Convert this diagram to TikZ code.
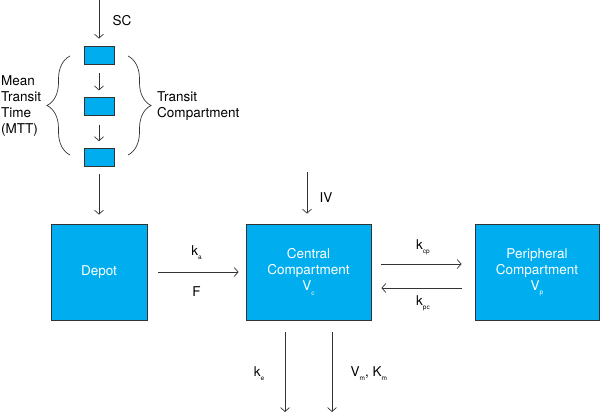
\documentclass[tikz,border=0pt]{standalone}
\usepackage{fontspec}
\setmainfont{TeX Gyre Heros}
\usepackage{tikz}
\usetikzlibrary{arrows.meta, decorations.pathreplacing, calc}
\usetikzlibrary{positioning}
\definecolor{boxBlue}{HTML}{00AEEF}
\definecolor{lineGray}{HTML}{333333}
\newcommand{\boxColor}{boxBlue}
\newcommand{\rateidx}[1]{\raisebox{-0.6ex}{\fontsize{6.5}{6.5}\selectfont #1}}
\tikzset{
    comp/.style = {draw=lineGray, line width=0.8pt, fill=\boxColor, text=white, align=center, minimum height=96pt, inner sep=0pt},
    transit/.style = {draw=lineGray, line width=0.8pt, fill=\boxColor, minimum width=30pt, minimum height=18pt, inner sep=0pt},
    flow/.style = {draw=lineGray, line width=0.7pt, -{Straight Barb[length=4pt,width=9pt]}},
    brc/.style = {draw=lineGray, line width=0.7pt, decorate, decoration={brace, amplitude=23pt}}
}

\begin{document}
\begin{tikzpicture}[x=1pt, y=-1pt, font=\fontsize{13.5}{16}\selectfont]
    \useasboundingbox (0,0) rectangle (602,414);

    % transit chain
    \node[transit] (T1) at (99,55) {};
    \node[transit, below=33pt of T1] (T2) {};
    \node[transit, below=32pt of T2] (T3) {};

    % compartments
    \node[comp, minimum width=96pt] (depot) at (99,272) {Depot};
    \node[comp, minimum width=125pt] (central) at (308.5,272) {Central\\Compartment\\V\rateidx{c}};
    \node[comp, minimum width=124pt] (periph) at (537,272) {Peripheral\\Compartment\\V\rateidx{p}};

    \coordinate (sc) at (99,0);
    \coordinate (iv) at (307,172);
    \coordinate (ke) at (285,412);
    \coordinate (vm) at (332,412);

    \draw[flow, shorten >=7pt] (sc) -- (T1) node[pos=0.45, right=10pt] (sclbl) {SC};
    \draw[flow, shorten <=9pt, shorten >=7pt] (T1) -- (T2);
    \draw[flow, shorten <=9pt, shorten >=7pt] (T2) -- (T3);
    \draw[flow, shorten <=7pt, shorten >=9pt] (T3) -- (depot);

    \draw[brc] (70,155) -- (70,56);
    \draw[brc] (128,56) -- (128,155);
    \node[align=left, anchor=west, inner sep=0pt] (mtt) at (1,106) {Mean\\Transit\\Time\\(MTT)};
    \node[align=left, anchor=west, inner sep=0pt] (tc) at (157,106) {Transit\\Compartment};

    \draw[flow, shorten <=11pt, shorten >=7pt] (depot) -- (central)
        node[midway, yshift=19pt] (ka) {k\rateidx{a}}
        node[midway, yshift=-20pt] (F) {F};
    \draw[flow, shorten >=10pt] (iv) -- (iv |- central.north) node[midway, right=9pt] (ivlbl) {IV};

    \draw[flow, shorten <=10pt, shorten >=13pt] ([yshift=8pt]central.east) -- ([yshift=8pt]periph.west)
        node[midway, yshift=17pt] (kcp) {k\rateidx{cp}};
    \draw[flow, shorten <=13pt, shorten >=10pt] ([yshift=-16pt]periph.west) -- ([yshift=-16pt]central.east)
        node[midway, yshift=-15pt] (kpc) {k\rateidx{pc}};

    % elimination
    \draw[flow, shorten <=12pt] ([xshift=-23.5pt]central.south) -- (ke) node[pos=0.58, left=17pt] (kel) {k\rateidx{e}};
    \draw[flow, shorten <=12pt] ([xshift=23.5pt]central.south) -- (vm) node[pos=0.58, right=15pt] (vml) {V\rateidx{m}, K\rateidx{m}};
\end{tikzpicture}
\end{document}
